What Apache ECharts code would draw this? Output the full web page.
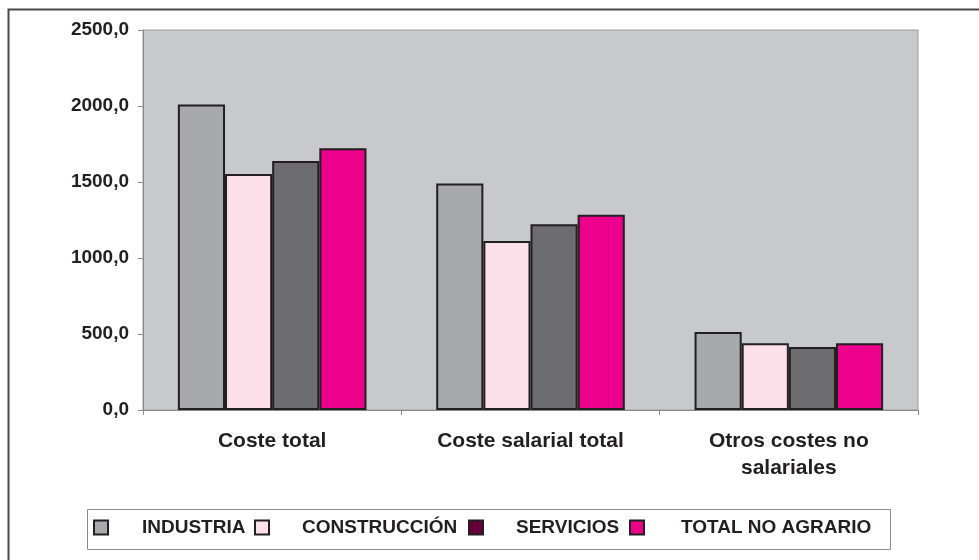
<!DOCTYPE html>
<html>
<head>
<meta charset="utf-8">
<script src="https://cdn.jsdelivr.net/npm/echarts@6/dist/echarts.min.js"></script>
<style>
  html, body { margin: 0; padding: 0; background: #fff; }
  #chart { width: 979px; height: 560px; }
</style>
</head>
<body>
<div id="chart"></div>
<script>
// coste laboral por sector
const categories = ['Coste total', 'Coste salarial total', 'Otros costes no salariales']
const seriesNames = ['INDUSTRIA', 'CONSTRUCCIÓN', 'SERVICIOS', 'TOTAL NO AGRARIO']
const industria = [2010, 1490, 513]
const construccion = [1553, 1112, 439]
const servicios = [1638, 1222, 414]
const totalNoAgrario = [1722, 1285, 439]
const yTicks = [0, 500, 1000, 1500, 2000, 2500]

const barColors = ['#a8a9ad', '#fbdfe9', '#6d6d6f', '#ec008c']
// el marcador de SERVICIOS en la leyenda sale granate
const legendColors = ['#a8a9ad', '#fbdfe9', '#66003a', '#ec008c']
const font = 'Arial, "Liberation Sans", sans-serif'

const myChart = echarts.init(document.getElementById('chart'))
const values = [industria, construccion, servicios, totalNoAgrario]

// una leyenda por serie para colocar cada entrada como en el original
const legendLeft = [93, 254, 468, 629]
const legendPad = [29, 28, 28, 32]

const option = {
  animation: false,
  graphic: [
    {
      type: 'rect',
      shape: { x: 8.5, y: 9.5, width: 1100, height: 700 },
      style: { fill: 'none', stroke: '#4a4a4a', lineWidth: 2 },
      z: -1,
    },
    {
      type: 'rect',
      shape: { x: 87.5, y: 509.5, width: 803, height: 40 },
      style: { fill: '#fff', stroke: '#8a8a8a', lineWidth: 1 },
      z: -1,
    },
  ],
  grid: {
    left: 143,
    top: 30,
    right: 61,
    bottom: 150,
    show: true,
    backgroundColor: '#c8c9cb',
    borderColor: '#9a9a9c',
    borderWidth: 1,
  },
  legend: seriesNames.map((n, i) => ({
    left: legendLeft[i],
    top: 518,
    padding: 0,
    itemWidth: 14,
    itemHeight: 14,
    icon: 'rect',
    data: [{
      name: n,
      itemStyle: { color: legendColors[i], borderColor: '#231f20', borderWidth: 2 },
    }],
    textStyle: {
      fontFamily: font,
      fontWeight: 'bold',
      fontSize: 19,
      color: '#231f20',
      padding: [0, 0, 0, legendPad[i]],
    },
  })),
  xAxis: {
    type: 'category',
    data: categories,
    axisLine: { lineStyle: { color: '#8a8a8a', width: 1 } },
    axisTick: { show: true, length: 5, lineStyle: { color: '#8a8a8a' } },
    axisLabel: {
      margin: 18,
      fontFamily: font,
      fontWeight: 'bold',
      fontSize: 21,
      color: '#231f20',
      lineHeight: 27,
      formatter: (v) => v.replace('costes no ', 'costes no\n'),
    },
  },
  yAxis: {
    type: 'value',
    min: yTicks[0],
    max: yTicks[yTicks.length - 1],
    interval: 500,
    splitLine: { show: false },
    axisLine: { show: true, lineStyle: { color: '#8a8a8a', width: 1 } },
    axisTick: { show: true, length: 5, lineStyle: { color: '#8a8a8a' } },
    axisLabel: {
      margin: 14,
      fontFamily: font,
      fontWeight: 'bold',
      fontSize: 19,
      color: '#231f20',
      formatter: (v) => v.toFixed(1).replace('.', ','),
    },
  },
  series: seriesNames.map((n, i) => ({
    name: n,
    type: 'bar',
    data: values[i],
    barGap: '0%',
    barCategoryGap: '27%',
    itemStyle: { color: barColors[i], borderColor: '#231f20', borderWidth: 2 },
  })),
}

option && myChart.setOption(option)
</script>
</body>
</html>
